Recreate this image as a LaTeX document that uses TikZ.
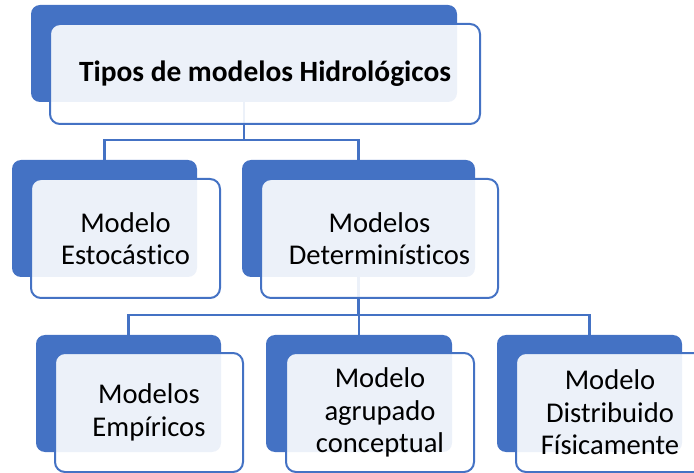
\documentclass[tikz,border=0pt]{standalone}
\usepackage{fontspec}
\setmainfont{Carlito}[Ligatures=CommonOff]
\usepackage{tikz}
\usetikzlibrary{positioning,calc}
\definecolor{smblue}{HTML}{4472C4}

\begin{document}
\begin{tikzpicture}[x=1pt,y=-1pt,
    back/.style={fill=smblue, rounded corners=9pt, inner sep=0pt},
    card/.style={draw=smblue, line width=2pt, fill=white, fill opacity=0.9, text opacity=1,
        rounded corners=10pt, inner sep=0pt, align=center,
        font=\fontsize{28.6}{32.5}\selectfont},
    conn/.style={draw=smblue, line width=2.5pt}]
    \clip (0,0) rectangle (694,473);

    % back tabs
    \node[back, minimum width=426pt, minimum height=97pt] (tiposbg) at (244,53.5) {};
    \node[back, minimum width=185pt, minimum height=117pt] (estocbg) at (104.5,218.5) {};
    \node[back, minimum width=233pt, minimum height=117pt] (determbg) at (358.5,218.5) {};
    \node[back, minimum width=185pt, minimum height=117pt] (empirbg) at (128.5,393.5) {};
    \node[back, minimum width=186pt, minimum height=117pt] (agrupbg) at (359,393.5) {};
    \node[back, minimum width=185pt, minimum height=117pt] (distrbg) at (589.5,393.5) {};

    % connectors
    \coordinate (bus1) at (244,140);
    \draw[conn] (tiposbg.south) -- (bus1);
    \draw[conn] (bus1) -| (estocbg.north);
    \draw[conn] (bus1) -| (determbg.north);
    \coordinate (bus2) at (358.5,315);
    \draw[conn] (determbg.south) -- (bus2);
    \draw[conn] (bus2) -| (empirbg.north);
    \draw[conn] (bus2) -| (agrupbg.north);
    \draw[conn] (bus2) -| (distrbg.north);

    % cards
    \node[card, minimum width=430pt, minimum height=100pt, font=\fontsize{29.4}{33}\selectfont\bfseries] (tipos) at (265,74) {Tipos de modelos Hidrológicos};
    \node[card, minimum width=189pt, minimum height=119pt] (estoc) at (125.5,238.5) {Modelo\\Estocástico};
    \node[card, minimum width=237pt, minimum height=119pt] (determ) at (379.5,238.5) {Modelos\\Determinísticos};
    \node[card, minimum width=188pt, minimum height=119pt] (empir) at (149,412.5) {Modelos\\Empíricos};
    \node[card, minimum width=188pt, minimum height=119pt] (agrup) at (380,412.5) {Modelo\\agrupado\\conceptual};
    \node[card, minimum width=188pt, minimum height=119pt] (distr) at (610,412.5) {Modelo\\Distribuido\\Físicamente};
\end{tikzpicture}
\end{document}
